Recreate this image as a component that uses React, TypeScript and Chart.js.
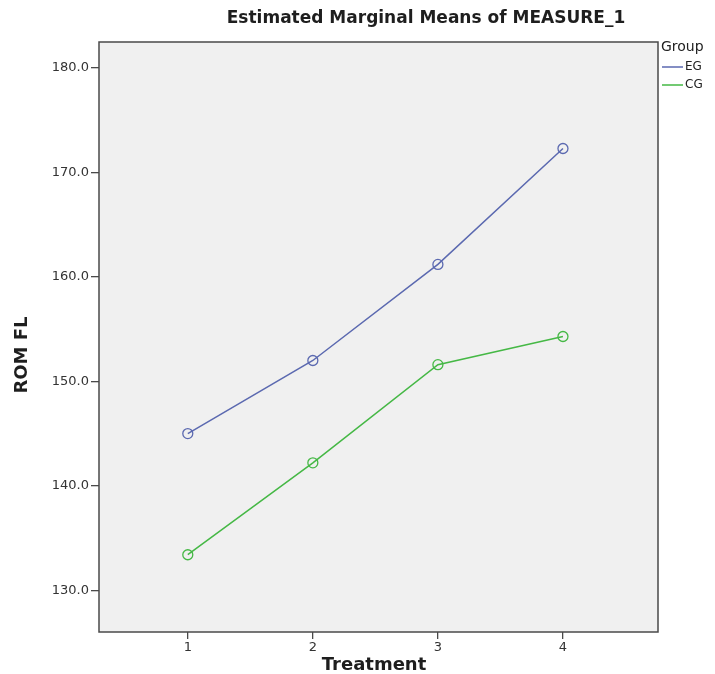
import React, { useEffect, useRef } from "react";
import { Chart, registerables } from "chart.js";

Chart.register(...registerables);

const treatments = [1, 2, 3, 4];
const egMeans = [145.0, 152.0, 161.2, 172.3];
const cgMeans = [133.4, 142.2, 151.6, 154.3];
const yTicks = [130, 140, 150, 160, 170, 180];
const seriesNames = ["EG", "CG"];
const seriesColors = ["#5b69b0", "#45b845"];

const FONT = "'DejaVu Sans', 'Open Sans', sans-serif";

const framePlugin = {
  id: "frame",
  beforeDraw(chart: any) {
    const { ctx, chartArea: a } = chart;
    ctx.save();
    ctx.fillStyle = "#f0f0f0";
    ctx.fillRect(a.left, a.top, a.right - a.left, a.bottom - a.top);
    ctx.restore();
  },
  afterDraw(chart: any) {
    const { ctx, chartArea: a } = chart;
    ctx.save();
    ctx.strokeStyle = "#4a4a4a";
    ctx.lineWidth = 1.5;
    ctx.strokeRect(a.left, a.top, a.right - a.left, a.bottom - a.top);

    // title
    ctx.fillStyle = "#1e1e1e";
    ctx.font = `bold 17px ${FONT}`;
    ctx.textAlign = "center";
    ctx.textBaseline = "middle";
    ctx.fillText("Estimated Marginal Means of MEASURE_1", 426, 19);

    // axis titles
    ctx.font = `bold 18px ${FONT}`;
    ctx.fillText("Treatment", 374, 665);
    ctx.save();
    ctx.translate(22, 355);
    ctx.rotate(-Math.PI / 2);
    ctx.fillText("ROM FL", 0, 0);
    ctx.restore();

    // legend
    ctx.textAlign = "left";
    ctx.font = `14px ${FONT}`;
    ctx.fillStyle = "#222";
    ctx.fillText("Group", a.right + 3, 47);
    ctx.font = `12px ${FONT}`;
    seriesNames.forEach((name, i) => {
      const y = 67 + i * 18;
      ctx.strokeStyle = seriesColors[i];
      ctx.lineWidth = 1.5;
      ctx.beginPath();
      ctx.moveTo(a.right + 4, y);
      ctx.lineTo(a.right + 25, y);
      ctx.stroke();
      ctx.fillStyle = "#222";
      ctx.fillText(name, a.right + 27, y);
    });
    ctx.restore();
  },
};

export default function App() {
  const canvasRef = useRef<HTMLCanvasElement | null>(null);

  useEffect(() => {
    document.body.style.margin = "0";
    const canvas = canvasRef.current;
    if (!canvas) return;
    const makeSeries = (i: number, values: number[]) => ({
      label: seriesNames[i],
      data: treatments.map((t, k) => ({ x: t, y: values[k] })),
      borderColor: seriesColors[i],
      backgroundColor: "rgba(0,0,0,0)",
      borderWidth: 1.5,
      pointRadius: 5,
      pointBorderWidth: 1.3,
      pointBackgroundColor: "rgba(0,0,0,0)",
      pointBorderColor: seriesColors[i],
      tension: 0,
    });
    const chart = new Chart(canvas, {
      type: "line",
      data: {
        datasets: [makeSeries(0, egMeans), makeSeries(1, cgMeans)],
      },
      plugins: [framePlugin],
      options: {
        responsive: false,
        animation: false,
        layout: { padding: { top: 42, right: 57, left: 0, bottom: 0 } },
        plugins: { legend: { display: false }, tooltip: { enabled: false }, title: { display: false } },
        scales: {
          x: {
            type: "linear",
            min: 0.29,
            max: 4.76,
            afterBuildTicks: (axis: any) => {
              axis.ticks = treatments.map((v) => ({ value: v }));
            },
            afterFit: (axis: any) => {
              axis.height = 42;
            },
            border: { display: false },
            grid: { drawOnChartArea: false, drawTicks: true, tickLength: 7, color: "#4a4a4a", lineWidth: 1.3 },
            ticks: {
              padding: 1,
              color: "#333",
              font: { family: FONT, size: 13 },
              callback: (v: any) => String(v),
            },
          },
          y: {
            type: "linear",
            min: 126.0,
            max: 182.5,
            afterBuildTicks: (axis: any) => {
              axis.ticks = yTicks.map((v) => ({ value: v }));
            },
            afterFit: (axis: any) => {
              axis.width = 99;
            },
            border: { display: false },
            grid: { drawOnChartArea: false, drawTicks: true, tickLength: 8, color: "#4a4a4a", lineWidth: 1.3 },
            ticks: {
              padding: 2,
              color: "#333",
              font: { family: FONT, size: 13 },
              callback: (v: any) => Number(v).toFixed(1),
            },
          },
        },
      },
    } as any);
    return () => chart.destroy();
  }, []);

  return (
    <div style={{ width: 715, height: 674 }}>
      <canvas ref={canvasRef} width={715} height={674} />
    </div>
  );
}
